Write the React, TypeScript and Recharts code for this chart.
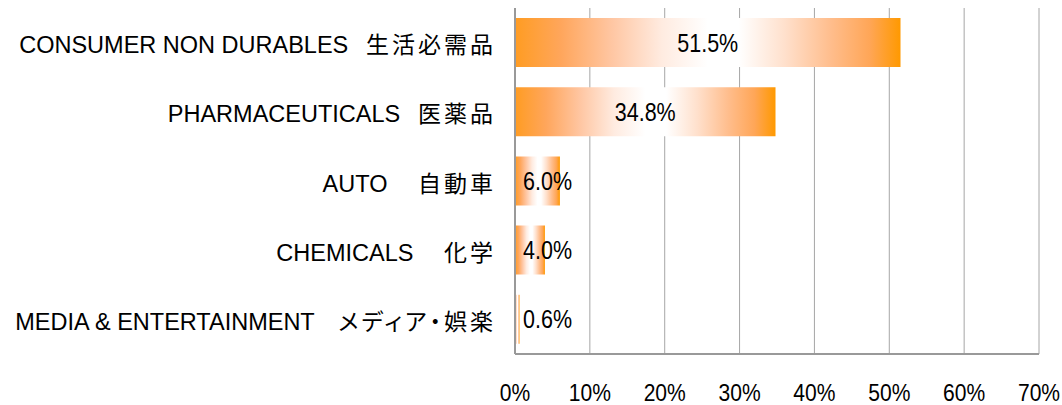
import React from "react";
import { BarChart, Bar, XAxis, YAxis, CartesianGrid, LabelList } from "recharts";

const categories = [
  "CONSUMER NON DURABLES\u00a0\u00a0\u2009生活必需品",
  "PHARMACEUTICALS\u00a0\u00a0\u2009医薬品",
  "AUTO\u00a0\u3000自動車",
  "CHEMICALS\u00a0\u3000化学",
  "MEDIA & ENTERTAINMENT\u3000メディア・娯楽",
];
const values = [51.5, 34.8, 6.0, 4.0, 0.6];
const xTicks = [0, 10, 20, 30, 40, 50, 60, 70];
const boundaryTicks = [1, 2, 3, 4];

const data = categories.map((name, i) => ({ name, value: values[i] }));

const NUM_FONT = "'Liberation Sans', Arial, sans-serif";
const LAT_FONT = "'Liberation Sans', Arial, sans-serif";
const CJK_FONT = "'Noto Sans CJK JP', 'Noto Sans CJK SC', sans-serif";
const NUM_SCALE = 0.86;

const YTick = (props: any) => {
  const { x, y, payload } = props;
  const s: string = String(payload.value);
  const idx = s.search(/[\u3040-\u30ff\u4e00-\u9fff]/);
  const latin = idx >= 0 ? s.slice(0, idx) : s;
  const ja = idx >= 0 ? s.slice(idx) : "";
  return (
    <text x={x} y={y + 10.5} textAnchor="end" fill="#000" style={{ whiteSpace: "pre" }}>
      <tspan fontFamily={LAT_FONT} fontSize={23.5}>{latin}</tspan>
      <tspan
        fontFamily={CJK_FONT}
        fontSize={23}
        letterSpacing={3}
        style={{ fontFeatureSettings: '"palt" 1' }}
      >
        {ja}
      </tspan>
    </text>
  );
};

const XTick = (props: any) => {
  const { x, y, payload } = props;
  return (
    <text
      transform={`translate(${x}, ${y + 47}) scale(${NUM_SCALE}, 1)`}
      textAnchor="middle"
      fontFamily={NUM_FONT}
      fontSize={24.5}
      fill="#000"
    >
      {`${payload.value}%`}
    </text>
  );
};

const BarValueLabel = (props: any) => {
  const { x, y, width, height, value } = props;
  const cx = Math.max(x + width / 2, x + 8 + 24.5);
  const cy = y + height / 2;
  return (
    <text
      transform={`translate(${cx}, ${cy + 9}) scale(${NUM_SCALE}, 1)`}
      textAnchor="middle"
      fontFamily={NUM_FONT}
      fontSize={25}
      fill="#000"
    >
      {`${Number(value).toFixed(1)}%`}
    </text>
  );
};

export default function App() {
  return (
    <div style={{ position: "absolute", left: 0, top: 0 }}>
      <BarChart
        width={1062}
        height={405}
        data={data}
        layout="vertical"
        margin={{ top: 8, right: 23, bottom: 0, left: 0 }}
      >
        <defs>
          <linearGradient id="barGrad" x1="0" y1="0" x2="1" y2="0">
            <stop offset="0" stopColor="#FF9C22" />
            <stop offset="0.12" stopColor="#FFA65C" />
            <stop offset="0.25" stopColor="#FFC6A2" />
            <stop offset="0.38" stopColor="#FFEBE0" />
            <stop offset="0.5" stopColor="#FFFFFF" />
            <stop offset="0.58" stopColor="#FFFFFF" />
            <stop offset="0.7" stopColor="#FFE0CC" />
            <stop offset="0.82" stopColor="#FFBD8C" />
            <stop offset="0.92" stopColor="#FFA657" />
            <stop offset="1" stopColor="#FF9900" />
          </linearGradient>
        </defs>
        <CartesianGrid horizontal={false} vertical stroke="#a6a6a6" strokeWidth={1} />
        <XAxis
          type="number"
          domain={[0, 70]}
          ticks={xTicks}
          height={51}
          tickSize={0}
          tickMargin={0}
          tickLine={false}
          axisLine={{ stroke: "#999999", strokeWidth: 2 }}
          tick={<XTick />}
          interval={0}
          allowDataOverflow
        />
        <XAxis
          xAxisId="top"
          orientation="top"
          type="number"
          domain={[0, 1]}
          height={0}
          tick={false}
          tickLine={false}
          axisLine={{ stroke: "#999999", strokeWidth: 2 }}
        />
        <YAxis
          type="category"
          dataKey="name"
          width={515}
          tickSize={0}
          tickMargin={19}
          tickLine={false}
          axisLine={{ stroke: "#999999", strokeWidth: 2 }}
          tick={<YTick />}
          interval={0}
        />
        <YAxis
          yAxisId="bounds"
          type="number"
          domain={[0, 5]}
          ticks={boundaryTicks}
          mirror
          width={0}
          tick={false}
          tickSize={8}
          tickLine={{ stroke: "#999999", strokeWidth: 1 }}
          axisLine={false}
        />
        <YAxis
          yAxisId="right"
          orientation="right"
          type="number"
          domain={[0, 1]}
          width={0}
          tick={false}
          tickLine={false}
          axisLine={{ stroke: "#999999", strokeWidth: 2 }}
        />
        <Bar dataKey="value" fill="url(#barGrad)" barSize={49} isAnimationActive={false}>
          <LabelList dataKey="value" content={<BarValueLabel />} />
        </Bar>
      </BarChart>
    </div>
  );
}
